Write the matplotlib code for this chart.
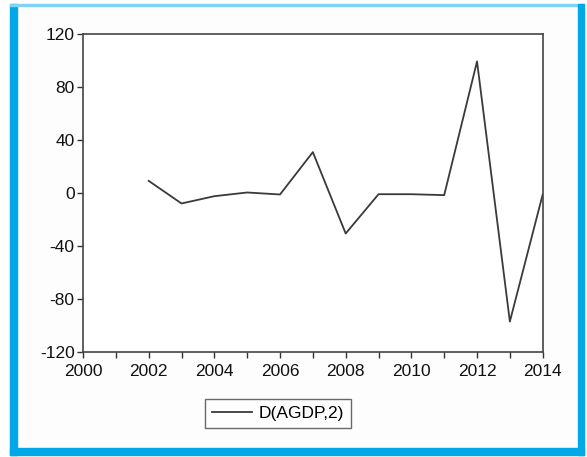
import matplotlib
matplotlib.use("Agg")
import matplotlib.pyplot as plt
from matplotlib.patches import Rectangle

plt.rcParams['font.family'] = ['Liberation Sans', 'DejaVu Sans']
plt.rcParams['axes.unicode_minus'] = False

years = [2002, 2003, 2004, 2005, 2006, 2007, 2008, 2009, 2010, 2011, 2012, 2013, 2014]
d_agdp2 = [9.3, -7.8, -2.3, 0.5, -1.0, 31.0, -30.5, -0.8, -0.8, -1.5, 99.5, -97.0, -1.0]
series_label = "D(AGDP,2)"
yticks = [-120, -80, -40, 0, 40, 80, 120]
xticks_major = [2000, 2002, 2004, 2006, 2008, 2010, 2012, 2014]
xticks_minor = [2001, 2003, 2005, 2007, 2009, 2011, 2013]

W, H = 587, 457
fig = plt.figure(figsize=(W / 100, H / 100), dpi=100)
fig.patch.set_facecolor('white')

# blue frame round the panel
blue = '#00a8e8'
fig.add_artist(Rectangle((12 / W, 1 - 450 / H), (580 - 12) / W, (450 - 4) / H,
                         transform=fig.transFigure, facecolor='#fdfdfd',
                         edgecolor='none', zorder=0))
fig.add_artist(Rectangle((10 / W, 1 - 455 / H), 7 / W, (455 - 4) / H,
                         transform=fig.transFigure, color=blue, zorder=1))
fig.add_artist(Rectangle((10 / W, 1 - 6 / H), (584 - 10) / W, 2 / H,
                         transform=fig.transFigure, color='#7fd3f3', zorder=1))
fig.add_artist(Rectangle((578 / W, 1 - 455 / H), 6 / W, (455 - 4) / H,
                         transform=fig.transFigure, color=blue, zorder=1))
fig.add_artist(Rectangle((10 / W, 1 - 455 / H), (584 - 10) / W, 7 / H,
                         transform=fig.transFigure, color=blue, zorder=1))

ax = fig.add_axes([83 / W, 1 - 352 / H, (542.7 - 83) / W, (352 - 34.3) / H])
ax.set_facecolor('white')
ax.plot(years, d_agdp2, color='#3a3a3a', lw=1.3, label=series_label)

ax.set_xlim(2000, 2014)
ax.set_ylim(-120, 120)
ax.set_yticks(yticks)
ax.set_xticks(xticks_major)
ax.set_xticks(xticks_minor, minor=True)
ax.tick_params(axis='both', which='both', direction='out', length=4, width=1,
               color='#333333', labelsize=12.5, labelcolor='#111111', pad=2)
ax.tick_params(axis='x', which='both', pad=5)
for sp in ax.spines.values():
    sp.set_color('#444444')
    sp.set_linewidth(1.2)

leg = ax.legend(loc='center', bbox_to_anchor=(278 / W, 1 - 413.5 / H),
                bbox_transform=fig.transFigure, fontsize=12.5, frameon=True,
                fancybox=False, handlelength=2.3, handletextpad=0.4,
                borderpad=0.4, borderaxespad=0)
leg.get_frame().set_edgecolor('#444444')
leg.get_frame().set_linewidth(1.0)

fig.savefig("out.png", dpi=100, facecolor=fig.get_facecolor())
